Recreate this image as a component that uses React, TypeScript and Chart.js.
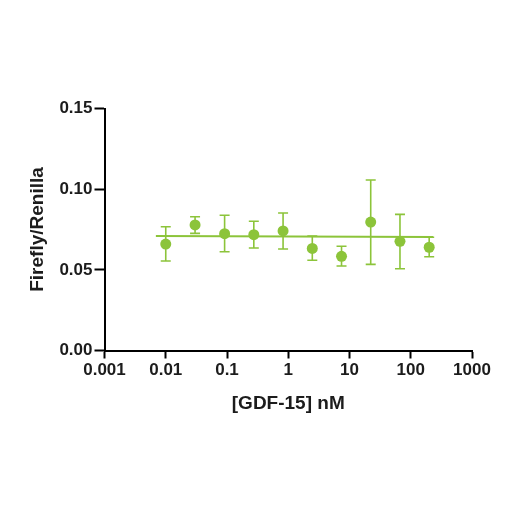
import React, { useEffect, useRef } from "react";
import { Chart, registerables } from "chart.js";

Chart.register(...registerables);

// Concentrations ([GDF-15] nM) — 3-fold dilution series
const concentrations = [0.01, 0.0301, 0.0914, 0.274, 0.823, 2.47, 7.41, 22.2, 66.7, 200];
// Firefly/Renilla means
const meanValues = [0.066, 0.0778, 0.0724, 0.0718, 0.0741, 0.0633, 0.0584, 0.0796, 0.0677, 0.064];
// Upper and lower ends of the error bars
const errUpper = [0.0767, 0.0829, 0.0838, 0.0801, 0.0852, 0.071, 0.0646, 0.1057, 0.0844, 0.0702];
const errLower = [0.0555, 0.0726, 0.0612, 0.0635, 0.0629, 0.0559, 0.0524, 0.0534, 0.0507, 0.0581];
// Fitted (flat) line endpoints
const fitX = [0.0069, 232];
const fitY = [0.071, 0.0703];

const xTickValues = [0.001, 0.01, 0.1, 1, 10, 100, 1000];
const xTickLabels = ["0.001", "0.01", "0.1", "1", "10", "100", "1000"];
const yTickValues = [0, 0.05, 0.1, 0.15];
const yTickLabels = ["0.00", "0.05", "0.10", "0.15"];

const GREEN = "#8cc43a";
const TEXT = "#1c1c1c";
const FONT = "'Liberation Sans', Arial, sans-serif";

const errorBarPlugin = {
  id: "errorBars",
  beforeDatasetsDraw(chart: any) {
    const ctx = chart.ctx;
    const xs = chart.scales.x;
    const ys = chart.scales.y;
    ctx.save();
    ctx.strokeStyle = GREEN;
    ctx.lineWidth = 1.6;
    const cap = 5;
    for (let i = 0; i < concentrations.length; i++) {
      const px = xs.getPixelForValue(concentrations[i]);
      const pt = ys.getPixelForValue(errUpper[i]);
      const pb = ys.getPixelForValue(errLower[i]);
      ctx.beginPath();
      ctx.moveTo(px, pt);
      ctx.lineTo(px, pb);
      ctx.moveTo(px - cap, pt);
      ctx.lineTo(px + cap, pt);
      ctx.moveTo(px - cap, pb);
      ctx.lineTo(px + cap, pb);
      ctx.stroke();
    }
    ctx.restore();
  },
};

export default function App() {
  const ref = useRef<HTMLCanvasElement | null>(null);

  useEffect(() => {
    if (!ref.current) return;
    const chart = new Chart(ref.current, {
      type: "scatter",
      data: {
        datasets: [
          {
            type: "line",
            data: fitX.map((x, i) => ({ x, y: fitY[i] })),
            borderColor: GREEN,
            borderWidth: 2,
            pointRadius: 0,
            fill: false,
            order: 2,
          } as any,
          {
            data: concentrations.map((x, i) => ({ x, y: meanValues[i] })),
            backgroundColor: GREEN,
            borderColor: GREEN,
            pointRadius: 5.5,
            pointBorderWidth: 0,
            order: 1,
          },
        ],
      },
      options: {
        animation: false,
        responsive: true,
        maintainAspectRatio: false,
        layout: { padding: { left: 26, top: 108.5, right: 45, bottom: 106 } },
        plugins: { legend: { display: false }, tooltip: { enabled: false } },
        scales: {
          x: {
            type: "logarithmic",
            min: 0.001,
            max: 1000,
            afterBuildTicks: (scale: any) => {
              scale.ticks = xTickValues.map((v) => ({ value: v }));
            },
            afterFit: (scale: any) => {
              scale.height = 64.5;
            },
            ticks: {
              autoSkip: false,
              maxRotation: 0,
              padding: 2,
              color: TEXT,
              font: { family: FONT, size: 17, weight: "bold" },
              callback: (v: any) => {
                const idx = xTickValues.findIndex((t) => Math.abs(t - v) / t < 1e-6);
                return idx >= 0 ? xTickLabels[idx] : "";
              },
            },
            grid: {
              drawOnChartArea: false,
              drawTicks: true,
              tickLength: 8,
              tickWidth: 2,
              tickColor: "#000",
            },
            border: { display: true, color: "#000", width: 2 },
            title: {
              display: true,
              text: "[GDF-15] nM",
              color: TEXT,
              padding: 0,
              font: { family: FONT, size: 19, weight: "bold" },
            },
          },
          y: {
            type: "linear",
            min: 0,
            max: 0.15,
            afterBuildTicks: (scale: any) => {
              scale.ticks = yTickValues.map((v) => ({ value: v }));
            },
            afterFit: (scale: any) => {
              scale.width = 78.5;
            },
            ticks: {
              padding: 2,
              color: TEXT,
              font: { family: FONT, size: 17, weight: "bold" },
              callback: (v: any) => {
                const idx = yTickValues.findIndex((t) => Math.abs(t - v) < 1e-9);
                return idx >= 0 ? yTickLabels[idx] : "";
              },
            },
            grid: {
              drawOnChartArea: false,
              drawTicks: true,
              tickLength: 10,
              tickWidth: 2,
              tickColor: "#000",
            },
            border: { display: true, color: "#000", width: 2 },
            title: {
              display: true,
              text: "Firefly/Renilla",
              color: TEXT,
              padding: 0,
              font: { family: FONT, size: 19, weight: "bold" },
            },
          },
        },
      },
      plugins: [errorBarPlugin],
    } as any);
    return () => chart.destroy();
  }, []);

  return (
    <div style={{ position: "absolute", left: 0, top: 0, width: 517, height: 521, background: "#fff" }}>
      <canvas ref={ref} />
    </div>
  );
}
